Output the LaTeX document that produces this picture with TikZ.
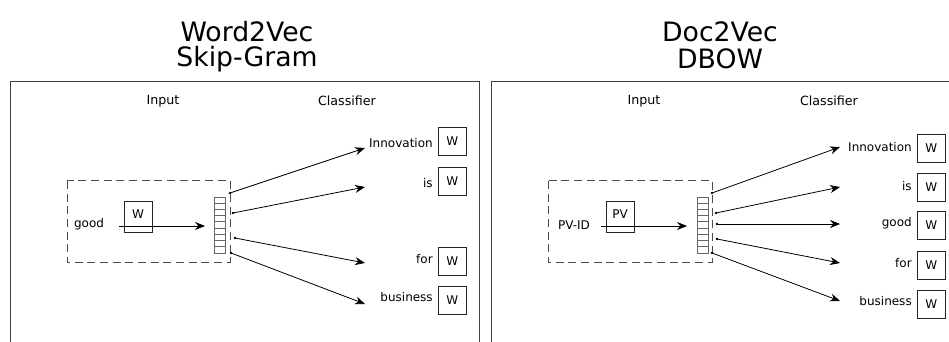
\documentclass[tikz,border=0pt]{standalone}
\usepackage{fontspec}
\setmainfont{DejaVu Sans}
\usetikzlibrary{arrows.meta}
\begin{document}
\begin{tikzpicture}[x=0.75pt,y=-0.75pt,
  ttl/.style={font=\fontsize{20}{23}\selectfont, inner sep=0},
  hdr/.style={font=\fontsize{9.5}{11}\selectfont, inner sep=0},
  lbl/.style={font=\fontsize{9}{11}\selectfont, inner sep=0},
  wbox/.style={draw=black!85, line width=0.6pt, minimum width=21pt, minimum height=21pt, inner sep=0, font=\fontsize{9}{11}\selectfont},
  panel/.style={draw=black!75, line width=0.75pt},
  dashbox/.style={draw=black!70, dashed, dash pattern=on 6pt off 3.5pt, line width=0.75pt},
  vec/.style={draw=black!60, line width=0.6pt, minimum width=8.25pt, minimum height=42pt, inner sep=0},
  arr/.style={-{Stealth[length=7.5pt,width=6pt,inset=2.5pt]}, line width=0.6pt}
]
\useasboundingbox (0,0) rectangle (949,342);
% titles
\node[ttl] (t1a) at (247,32) {Word2Vec};
\node[ttl] (t1b) at (247,59) {Skip-Gram};
\node[ttl] (t2a) at (720,32) {Doc2Vec};
\node[ttl] (t2b) at (720,59) {DBOW};
% panels
\draw[panel] (10,345) |- (479,82) -- (479,345);
\draw[panel] (491,345) |- (952,82);
% ---------- left panel ----------
\node[hdr] (in1) at (163,101) {Input};
\node[hdr] (cl1) at (347,101) {Classifier};
\draw[dashbox] (67,181) rectangle (230,262);
\node[lbl] (good1) at (89,224) {good};
\node[wbox, minimum height=23pt, anchor=north west] (wg) at (124,201) {};
\node[font=\fontsize{9}{11}\selectfont, inner sep=0] (wgl) at (138,214) {W};
\node[vec, anchor=north west] (v1) at (214,197) {};
\foreach \i in {1,...,8} \draw[black!60, line width=0.6pt] (214,197+\i*6.2) -- (225,197+\i*6.2);
\coordinate (a1s) at (119,226);
\coordinate (a1e) at (205,226);
\draw[arr] (a1s) -- (a1e);
% outputs
\node[wbox, anchor=north west] (w1a) at (438,127) {W};
\node[wbox, anchor=north west] (w1b) at (438,167) {W};
\node[wbox, anchor=north west] (w1d) at (438,247) {W};
\node[wbox, anchor=north west] (w1e) at (438,286) {W};
\node[lbl, anchor=east] (l1a) at (433,143) {Innovation};
\node[lbl, anchor=east] (l1b) at (433,183) {is};
\node[lbl, anchor=east] (l1d) at (433,259) {for};
\node[lbl, anchor=east] (l1e) at (433,297) {business};
\coordinate (s1a) at (230,193); \coordinate (e1a) at (365,148);
\coordinate (s1b) at (233,213); \coordinate (e1b) at (365,187);
\coordinate (s1d) at (235,238); \coordinate (e1d) at (365,263);
\coordinate (s1e) at (231,253); \coordinate (e1e) at (365,304);
\foreach \k in {a,b,d,e} {
  \draw[arr] (s1\k) -- (e1\k);
  \fill (s1\k) circle (1pt);
}
% ---------- right panel ----------
\node[hdr] (in2) at (644,101) {Input};
\node[hdr] (cl2) at (829,101) {Classifier};
\draw[dashbox] (548,181) rectangle (712,262);
\node[lbl] (pvid) at (574,225) {PV-ID};
\node[wbox, minimum height=23pt, anchor=north west] (pvb) at (606,201) {};
\node[font=\fontsize{9}{11}\selectfont, inner sep=0] (pvl) at (620,214) {PV};
\node[vec, anchor=north west] (v2) at (697,197) {};
\foreach \i in {1,...,8} \draw[black!60, line width=0.6pt] (697,197+\i*6.2) -- (708,197+\i*6.2);
\coordinate (a2s) at (601,226);
\coordinate (a2e) at (687,226);
\draw[arr] (a2s) -- (a2e);
\node[wbox, anchor=north west] (w2a) at (917,134) {W};
\node[wbox, anchor=north west] (w2b) at (917,173) {W};
\node[wbox, anchor=north west] (w2c) at (917,211) {W};
\node[wbox, anchor=north west] (w2d) at (917,251) {W};
\node[wbox, anchor=north west] (w2e) at (917,290) {W};
\node[lbl, anchor=east] (l2a) at (912,147) {Innovation};
\node[lbl, anchor=east] (l2b) at (912,186) {is};
\node[lbl, anchor=east] (l2c) at (912,223) {good};
\node[lbl, anchor=east] (l2d) at (912,263) {for};
\node[lbl, anchor=east] (l2e) at (912,301) {business};
\coordinate (s2a) at (712,193); \coordinate (e2a) at (840,147);
\coordinate (s2b) at (716,213); \coordinate (e2b) at (840,187);
\coordinate (s2c) at (717,224); \coordinate (e2c) at (840,224);
\coordinate (s2d) at (717,239); \coordinate (e2d) at (840,263);
\coordinate (s2e) at (712,253); \coordinate (e2e) at (840,301);
\foreach \k in {a,b,c,d,e} {
  \draw[arr] (s2\k) -- (e2\k);
  \fill (s2\k) circle (1pt);
}
\end{tikzpicture}
\end{document}
